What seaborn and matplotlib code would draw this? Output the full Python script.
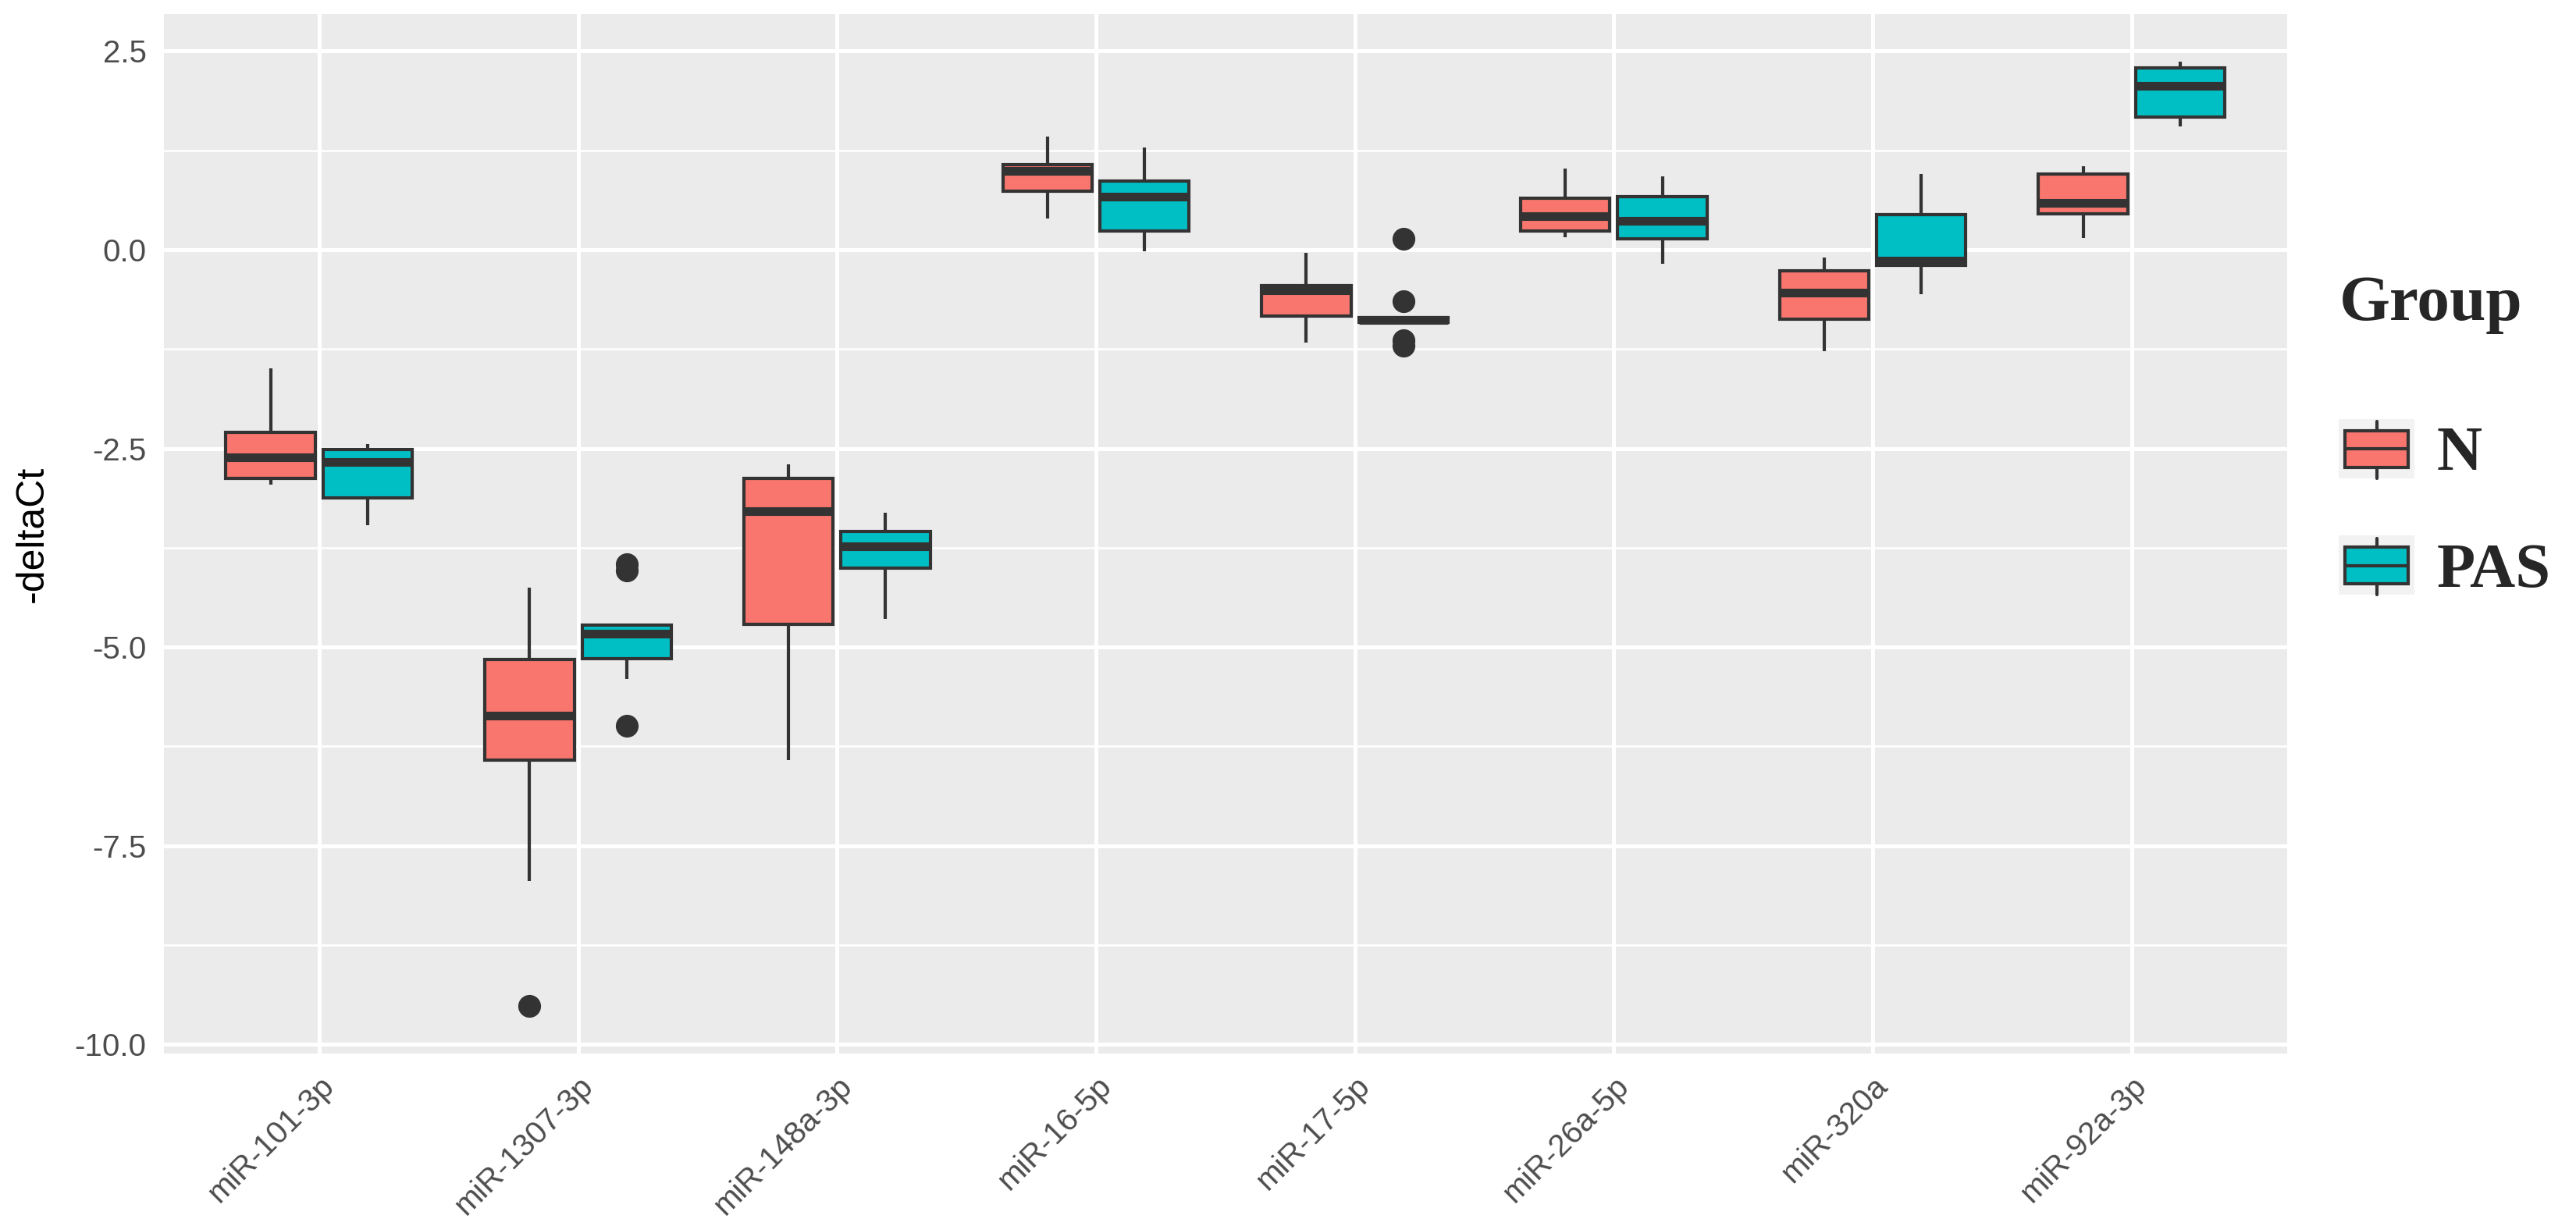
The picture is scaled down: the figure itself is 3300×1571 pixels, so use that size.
import pandas as pd
import matplotlib
matplotlib.use('Agg')
import matplotlib.pyplot as plt
import seaborn as sns
from matplotlib.patches import Rectangle, Patch
from matplotlib.lines import Line2D
from matplotlib.legend_handler import HandlerBase
from matplotlib.ticker import MultipleLocator, FormatStrFormatter

# miRNAs on the x axis and the two groups
mirnas = ['miR-101-3p', 'miR-1307-3p', 'miR-148a-3p', 'miR-16-5p',
          'miR-17-5p', 'miR-26a-5p', 'miR-320a', 'miR-92a-3p']
groups = ['N', 'PAS']
colors = ['#F8766D', '#00BFC4']

n_101 = [-2.96, -2.92, -2.88, -2.74, -2.61, -2.45, -2.30, -1.90, -1.49]
pas_101 = [-3.47, -3.25, -3.12, -2.85, -2.67, -2.58, -2.51, -2.48, -2.45]
n_1307 = [-9.52, -7.94, -6.42, -6.10, -5.86, -5.50, -5.16, -4.70, -4.25]
pas_1307 = [-5.99, -5.40, -5.15, -4.95, -4.83, -4.76, -4.72, -4.04, -3.96]
n_148a = [-6.42, -5.30, -4.71, -3.80, -3.29, -3.05, -2.88, -2.78, -2.70]
pas_148a = [-4.65, -4.30, -4.01, -3.85, -3.73, -3.63, -3.55, -3.42, -3.31]
n_16 = [0.39, 0.60, 0.74, 0.88, 0.99, 1.04, 1.07, 1.25, 1.42]
pas_16 = [-0.02, 0.10, 0.24, 0.50, 0.67, 0.78, 0.86, 1.05, 1.29]
n_17 = [-1.17, -1.00, -0.84, -0.65, -0.51, -0.47, -0.45, -0.25, -0.04]
pas_17 = [-1.21, -1.14, -0.91, -0.89, -0.88, -0.87, -0.85, -0.65, 0.14]
n_26a = [0.16, 0.20, 0.24, 0.33, 0.42, 0.55, 0.65, 0.85, 1.02]
pas_26a = [-0.18, 0.00, 0.14, 0.25, 0.36, 0.52, 0.67, 0.80, 0.92]
n_320a = [-1.28, -1.05, -0.87, -0.70, -0.54, -0.40, -0.27, -0.18, -0.10]
pas_320a = [-0.56, -0.35, -0.20, -0.17, -0.14, 0.15, 0.44, 0.70, 0.95]
n_92a = [0.15, 0.30, 0.45, 0.52, 0.59, 0.78, 0.95, 1.00, 1.05]
pas_92a = [1.55, 1.60, 1.67, 1.90, 2.06, 2.20, 2.29, 2.33, 2.37]

n_values = [n_101, n_1307, n_148a, n_16, n_17, n_26a, n_320a, n_92a]
pas_values = [pas_101, pas_1307, pas_148a, pas_16, pas_17, pas_26a, pas_320a, pas_92a]

# long table for seaborn
rows = []
for mir, nv, pv in zip(mirnas, n_values, pas_values):
    rows += [(mir, 'N', v) for v in nv]
    rows += [(mir, 'PAS', v) for v in pv]
df = pd.DataFrame(rows, columns=['miRNA', 'Group', 'deltaCt'])

sns.set_theme(style='darkgrid', rc={'axes.facecolor': '#EBEBEB',
                                    'grid.color': 'white',
                                    'figure.facecolor': 'white'})
plt.rcParams['font.family'] = ['Liberation Sans', 'DejaVu Sans']

fig = plt.figure(figsize=(33, 15.71), dpi=100)
ax = fig.add_axes([0.0636, 0.1407, 0.8242, 0.8478])

edge = '#333333'
sns.boxplot(data=df, x='miRNA', y='deltaCt', hue='Group', order=mirnas,
            hue_order=groups, palette=colors, saturation=1, width=0.75,
            gap=0.08, linecolor=edge, linewidth=3, showcaps=False,
            flierprops=dict(marker='o', markerfacecolor=edge, markeredgecolor=edge,
                            markersize=20),
            medianprops=dict(linewidth=8, color=edge, solid_capstyle='butt'),
            ax=ax)

# ggplot-like scales
lo, hi = df['deltaCt'].min(), df['deltaCt'].max()
pad = (hi - lo) * 0.05
ax.set_ylim(lo - pad, hi + pad)
ax.set_xlim(-0.6, len(mirnas) - 0.4)
ax.yaxis.set_major_locator(MultipleLocator(2.5))
ax.yaxis.set_minor_locator(MultipleLocator(1.25))
ax.yaxis.set_major_formatter(FormatStrFormatter('%.1f'))
ax.grid(which='major', color='white', linewidth=3.6)
ax.grid(which='minor', axis='y', color='white', linewidth=1.8)
ax.set_axisbelow(True)
for s in ax.spines.values():
    s.set_visible(False)

ax.tick_params(which='major', length=11, width=2.8, color=edge,
               labelsize=29, labelcolor='#4D4D4D', pad=5)
ax.tick_params(which='minor', length=0)
plt.setp(ax.get_xticklabels(), rotation=45, ha='right', va='top',
         rotation_mode='anchor')
ax.set_xlabel('')
ax.set_ylabel('-deltaCt', fontsize=36, color='black', labelpad=22)


class BoxKey(HandlerBase):
    # legend key drawn like a small ggplot box glyph
    def create_artists(self, legend, orig_handle, xdescent, ydescent,
                       width, height, fontsize, trans):
        x0, y0 = -xdescent, -ydescent
        bg = Rectangle((x0, y0), width, height, facecolor='#F2F2F2',
                       edgecolor='none', transform=trans)
        box = Rectangle((x0 + 0.08 * width, y0 + 0.18 * height), 0.84 * width,
                        0.62 * height, facecolor=orig_handle.get_facecolor(),
                        edgecolor=edge, linewidth=3, transform=trans)
        med = Line2D([x0 + 0.08 * width, x0 + 0.92 * width],
                     [y0 + 0.49 * height] * 2, color=edge, linewidth=3,
                     transform=trans)
        w_lo = Line2D([x0 + 0.5 * width] * 2, [y0, y0 + 0.18 * height],
                      color=edge, linewidth=3, transform=trans)
        w_hi = Line2D([x0 + 0.5 * width] * 2, [y0 + 0.8 * height, y0 + 0.95 * height],
                      color=edge, linewidth=3, transform=trans)
        return [bg, box, med, w_lo, w_hi]


old = ax.get_legend()
handles = old.legend_handles
labels = [t.get_text() for t in old.texts]
old.remove()

leg = fig.legend(handles, labels, title='Group', loc='center left',
                 bbox_to_anchor=(0.908, 0.643), frameon=False,
                 handler_map={Patch: BoxKey()}, handlelength=1.2,
                 handleheight=1.08, handletextpad=0.35, labelspacing=0.83,
                 borderpad=0, borderaxespad=0, alignment='left',
                 prop={'family': 'Liberation Serif', 'weight': 'bold', 'size': 58},
                 title_fontproperties={'family': 'Liberation Serif',
                                       'weight': 'bold', 'size': 60})
# wider gap between the title and the first key, as in the reference
leg._legend_box.sep = 78

fig.savefig('out.png', dpi=100)
